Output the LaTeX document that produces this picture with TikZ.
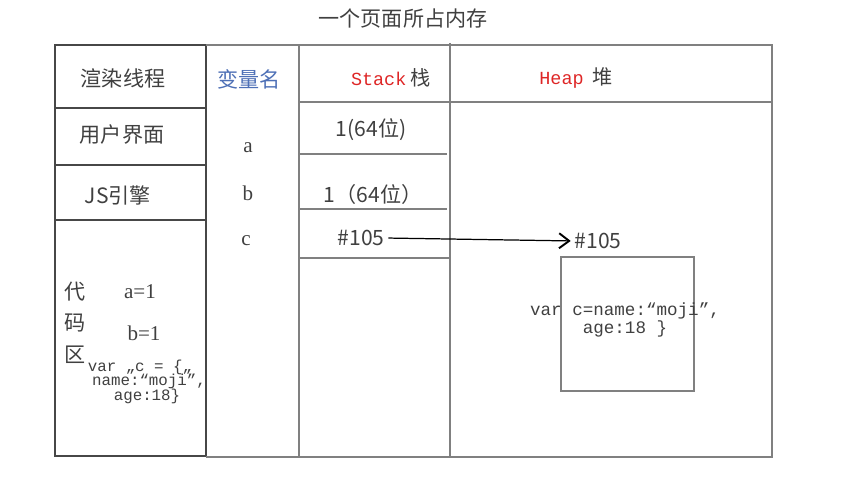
\documentclass[tikz,border=0pt]{standalone}
\usepackage{fontspec}
\setmainfont{Liberation Serif}
\setmonofont{Liberation Mono}
\newfontfamily\cjk{Noto Sans CJK SC}
\usetikzlibrary{arrows.meta}
\definecolor{stkred}{RGB}{222,38,38}
\definecolor{vnblue}{RGB}{78,112,182}
\newcommand\ql{\char"201C\relax}
\newcommand\qr{\char"201D\relax}
\newcommand\qlow{\char"201E\relax}
\tikzset{
  grd/.style={draw=black!50,line width=.75pt},
  grdk/.style={draw=black!72,line width=1.2pt},
  cn/.style={font=\cjk\fontsize{12}{14}\selectfont,text=black!75,inner sep=0pt},
  lt/.style={font=\fontsize{12}{14}\selectfont,text=black!75,inner sep=0pt},
  cd/.style={font=\ttfamily\fontsize{9}{8}\selectfont,text=black!75,inner sep=0pt},
  ob/.style={font=\ttfamily\fontsize{10}{8.4}\selectfont,text=black!75,inner sep=0pt,align=center},
  ptr/.style={-{Straight Barb[length=2mm,width=3mm,line width=1.1pt]},line width=.7pt,draw=black},
}

\begin{document}
\begin{tikzpicture}[x=0.02cm,y=-0.02cm]
\useasboundingbox (0,0) rectangle (849,492);
% title
\node[cn] (title) at (403,19) {一个页面所占内存};
% the thread column, drawn darker
\draw[grdk] (55,45) rectangle (206,456);
\draw[grdk] (55,108) -- (206,108) (55,165) -- (206,165) (55,220) -- (206,220);
% the rest of the frame
\draw[grd] (206,45) -- (772,45) -- (772,457) -- (206,457);
\draw[grd] (299,45) -- (299,457) (450,43) -- (450,457);
\draw[grd] (299,102) -- (772,102);
\draw[grd] (299,154) -- (447,154) (299,209) -- (447,209) (299,258) -- (450,258);
% the object on the heap
\draw[grd] (561,257) rectangle (694,391);
% headers
\node[cn] (thr) at (123,78) {渲染线程};
\node[cn,text=vnblue] (vname) at (249,79) {变量名};
\node[inner sep=0pt] (stk) at (391,78)
  {{\ttfamily\fontsize{10.5}{12}\selectfont\color{stkred}Stack}\ {\cjk\fontsize{11.5}{12}\selectfont\color{black!75}栈}};
\node[inner sep=0pt] (hp) at (576,78)
  {{\ttfamily\fontsize{10.5}{12}\selectfont\color{stkred}Heap}\ \ {\cjk\fontsize{11.5}{12}\selectfont\color{black!75}堆}};
\node[cn] (ui) at (122,135) {用户界面};
\node[cn] (js) at (118,195) {JS引擎};
% variable names
\node[lt] (va) at (248,148) {a};
\node[lt] (vb) at (248,193) {b};
\node[lt] (vc) at (246,241) {c};
% stack slots
\node[cn] (s1) at (371,130) {1(64位)};
\node[cn] (s2) at (373,194) {1（64位）};
\node[cn] (s3) at (361,238) {\#105};
% code area
\node[cn] (k1) at (75,292) {代};
\node[cn] (k2) at (75,323) {码};
\node[cn] (k3) at (75,355) {区};
\node[lt] (ca) at (140,292) {a=1};
\node[lt] (cb) at (144,333) {b=1};
\node[cd] (c1) at (140,367) {var \qlow c = \{\qlow};
\node[cd] (c2) at (149,381) {name:\ql moji\qr,};
\node[cd] (c3) at (147,396) {age:18\}};
% heap address and object text
\node[cn] (hadr) at (598,241) {\#105};
\node[ob] (obj) at (625,320) {var c=name:\ql moji\qr,\\age:18 \}};
% the pointer
\draw[ptr,shorten <=2pt,shorten >=2pt] (s3.east) -- (hadr.west);
\end{tikzpicture}
\end{document}
